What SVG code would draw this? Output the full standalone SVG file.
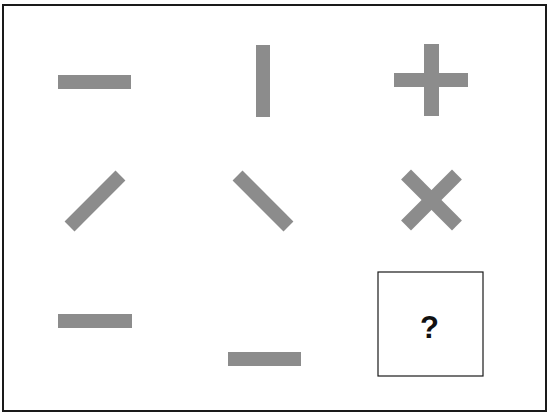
<svg xmlns="http://www.w3.org/2000/svg" width="549" height="414" viewBox="0 0 549 414">
<style>
.bar{fill:#8c8c8c}
.frame{fill:#fff;stroke:#1a1a1a;stroke-width:2}
.box{fill:#fff;stroke:#1a1a1a;stroke-width:1.2}
.q{font-family:"Liberation Sans",Arial,sans-serif;font-weight:bold;font-size:31px;fill:#111}
</style>
<rect class="frame" x="3" y="5" width="543" height="406"/>
<g id="cell1"><rect class="bar" x="58" y="75" width="73" height="14"/></g>
<g id="cell2"><rect class="bar" x="256" y="45" width="14" height="72"/></g>
<g id="cell3"><rect class="bar" x="394" y="73" width="74" height="14"/><rect class="bar" x="424" y="44" width="15" height="72"/></g>
<g id="cell4"><rect class="bar" x="59" y="194" width="72" height="14" transform="rotate(-45 95 201)"/></g>
<g id="cell5"><rect class="bar" x="227" y="194" width="72" height="14" transform="rotate(45 263 201)"/></g>
<g id="cell6"><rect class="bar" x="395.5" y="193" width="72" height="14" transform="rotate(45 431.5 200)"/><rect class="bar" x="395.5" y="193" width="72" height="14" transform="rotate(-45 431.5 200)"/></g>
<g id="cell7"><rect class="bar" x="58" y="314" width="74" height="14"/></g>
<g id="cell8"><rect class="bar" x="228" y="352" width="73" height="14"/></g>
<g id="cell9"><rect class="box" x="378" y="272" width="105" height="104"/><text class="q" x="429.5" y="338" text-anchor="middle">?</text></g>
</svg>
